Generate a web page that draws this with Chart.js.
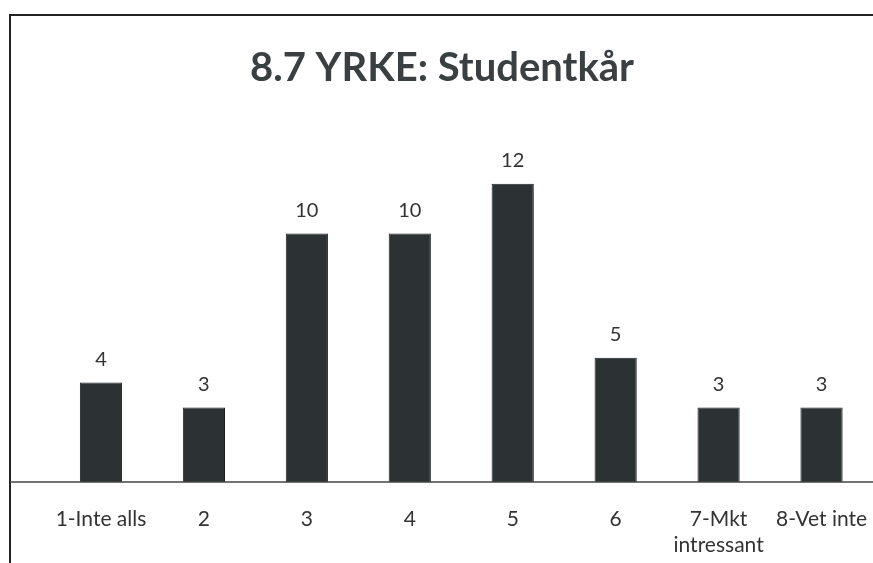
<!DOCTYPE html>
<html><head><meta charset="utf-8">
<script src="https://cdn.jsdelivr.net/npm/chart.js@4/dist/chart.umd.min.js"></script>
<style>html,body{margin:0;padding:0;background:#fff;}canvas{display:block;}</style>
</head><body>
<canvas id="c" width="873" height="563"></canvas>
<script>
const categories = ['1-Inte alls', '2', '3', '4', '5', '6', ['7-Mkt', 'intressant'], '8-Vet inte'];
const values = [4, 3, 10, 10, 12, 5, 3, 3];
const titleText = '8.7 YRKE: Studentkår';

const FONT = 'Lato, "Open Sans", sans-serif';

const decor = {
  id: 'decor',
  afterDraw(chart) {
    const ctx = chart.ctx;
    const y0 = chart.scales.y.getPixelForValue(0);
    ctx.save();
    // frame
    ctx.strokeStyle = '#222';
    ctx.lineWidth = 2;
    ctx.beginPath();
    ctx.moveTo(10, 563); ctx.lineTo(10, 15); ctx.lineTo(873, 15);
    ctx.stroke();
    // axis line across
    ctx.strokeStyle = '#444';
    ctx.lineWidth = 1.5;
    ctx.beginPath();
    ctx.moveTo(10, y0); ctx.lineTo(873, y0);
    ctx.stroke();
    // title
    ctx.fillStyle = '#3a3f42';
    ctx.font = 'bold 40px ' + FONT;
    ctx.textAlign = 'center';
    ctx.textBaseline = 'middle';
    ctx.fillText(titleText, 442, 68);
    // value labels
    ctx.fillStyle = '#333';
    ctx.font = '20px ' + FONT;
    ctx.textAlign = 'center';
    ctx.textBaseline = 'bottom';
    const meta = chart.getDatasetMeta(0);
    meta.data.forEach((bar, i) => {
      ctx.fillText(String(values[i]), bar.x, bar.y - 13);
    });
    ctx.restore();
  }
};

new Chart(document.getElementById('c'), {
  type: 'bar',
  data: {
    labels: categories,
    datasets: [{
      data: values,
      backgroundColor: '#2c3133',
      borderColor: '#1e2224',
      borderWidth: 1,
      categoryPercentage: 1,
      barPercentage: 0.41
    }]
  },
  options: {
    responsive: false,
    animation: false,
    layout: { padding: { left: 49.5, right: 0, top: 134, bottom: 0 } },
    plugins: {
      legend: { display: false },
      tooltip: { enabled: false },
      title: { display: false }
    },
    scales: {
      x: {
        grid: { display: false, drawTicks: false },
        border: { display: false },
        ticks: { color: '#333', font: { family: FONT, size: 21 }, padding: 25, maxRotation: 0, autoSkip: false },
        afterFit(scale) {
          scale.height = 81;
          scale.paddingLeft = 0;
          scale.paddingRight = 0;
        }
      },
      y: {
        display: false,
        min: 0,
        max: 14
      }
    }
  },
  plugins: [decor]
});
</script>
</body></html>
